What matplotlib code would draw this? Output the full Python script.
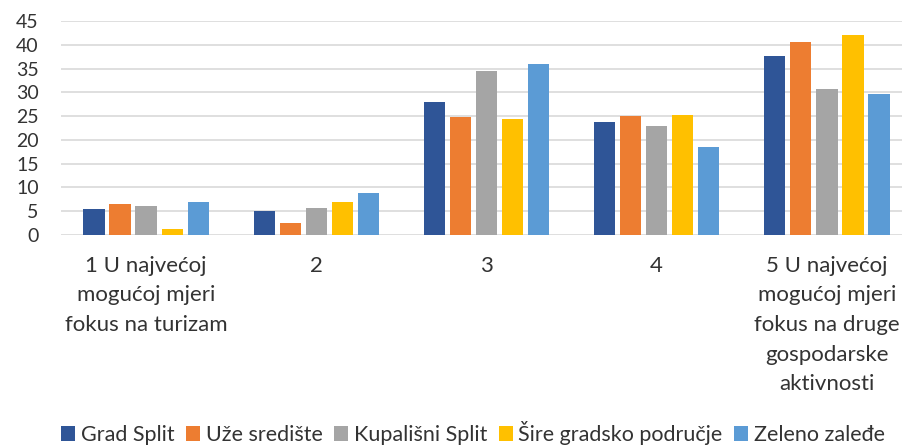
import matplotlib
matplotlib.use("Agg")
import matplotlib.pyplot as plt
import numpy as np
from matplotlib.patches import Patch

plt.rcParams['font.family'] = ['Lato', 'DejaVu Sans']

categories = ["1 U najvećoj\nmogućoj mjeri\nfokus na turizam", "2", "3", "4",
              "5 U najvećoj\nmogućoj mjeri\nfokus na druge\ngospodarske\naktivnosti"]
series_names = ["Grad Split", "Uže središte", "Kupališni Split", "Šire gradsko područje", "Zeleno zaleđe"]
grad_split = [5.4, 5.0, 28.0, 23.7, 37.6]
uze_srediste = [6.6, 2.6, 24.9, 25.1, 40.6]
kupalisni_split = [6.2, 5.6, 34.5, 22.9, 30.6]
sire_podrucje = [1.3, 7.0, 24.3, 25.2, 42.0]
zeleno_zaledje = [6.9, 8.8, 36.0, 18.4, 29.6]
yticks = [0, 5, 10, 15, 20, 25, 30, 35, 40, 45]

colors = ["#2F5597", "#ED7D31", "#A5A5A5", "#FFC000", "#5B9BD5"]
series = [grad_split, uze_srediste, kupalisni_split, sire_podrucje, zeleno_zaledje]

W, H = 903, 447
fig = plt.figure(figsize=(W / 100, H / 100), dpi=100)
ax = fig.add_axes([61 / W, 1 - 235 / H, (912 - 61) / W, (235 - 21) / H])

x = np.arange(len(categories))
pitch = 0.153
bw = 0.125
for i, (vals, c) in enumerate(zip(series, colors)):
    ax.bar(x + (i - 2) * pitch, vals, width=bw, color=c, zorder=3)

ax.set_xlim(-0.5, 4.5)
ax.set_ylim(0, 45)
ax.set_yticks(yticks)
ax.set_xticks(x)
ax.set_xticklabels(categories, linespacing=1.6, va='top')
for s in ax.spines.values():
    s.set_visible(False)
ax.grid(axis='y', color='#D9D9D9', linewidth=1.2, zorder=0)
ax.tick_params(axis='y', length=0, labelsize=14, labelcolor='#333333', pad=16)
ax.tick_params(axis='x', length=0, labelsize=16, labelcolor='#333333', pad=15)

handles = [Patch(facecolor=c, edgecolor='none') for c in colors]
fig.legend(handles, series_names, loc='center', bbox_to_anchor=(473 / W, 1 - 433 / H),
           ncol=5, frameon=False, fontsize=15.5, handlelength=0.65, handleheight=0.65,
           handletextpad=0.25, columnspacing=0.55, labelcolor='#333333', borderpad=0)

fig.savefig("out.png", dpi=100)
